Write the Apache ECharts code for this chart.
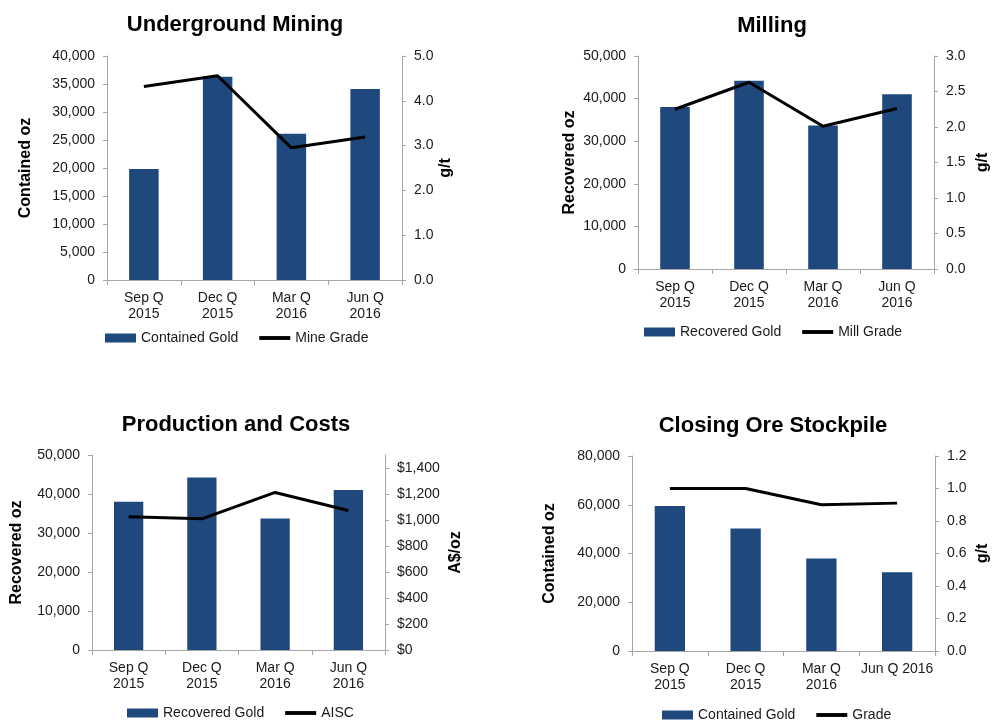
<!DOCTYPE html>
<html>
<head>
<meta charset="utf-8">
<script src="https://cdn.jsdelivr.net/npm/echarts/dist/echarts.min.js"></script>
<style>
  html, body { margin: 0; padding: 0; background: #fff; }
  #chart { width: 992px; height: 722px; }
</style>
</head>
<body>
<div id="chart"></div>
<script>
// ---- Data ----
const categories = ['Sep Q\n2015', 'Dec Q\n2015', 'Mar Q\n2016', 'Jun Q\n2016'];
const categoriesStockpile = ['Sep Q\n2015', 'Dec Q\n2015', 'Mar Q\n2016', 'Jun Q 2016'];

const titles = ['Underground Mining', 'Milling', 'Production and Costs', 'Closing Ore Stockpile'];

const ugContainedGold = [19800, 36300, 26100, 34100];
const ugMineGrade = [4.32, 4.56, 2.95, 3.19];

const millRecoveredGold = [38000, 44200, 33700, 41000];
const millGrade = [2.25, 2.63, 2.01, 2.26];

const prodRecoveredGold = [38000, 44200, 33700, 41000];
const prodAISC = [1025, 1009, 1212, 1073];

const stockContainedGold = [59500, 50300, 38000, 32300];
const stockGrade = [1.00, 1.00, 0.90, 0.91];

// ---- Styling ----
const FONT = 'Liberation Sans, Arial, sans-serif';
const BAR_COLOR = '#1F497D';
const AXIS_COLOR = '#A6A6A6';
const TEXT_COLOR = '#1a1a1a';
const LINE_ICON = 'path://M0,0H32V4H0Z';

const fmtThousands = v => Math.round(v).toLocaleString('en-US');
const fmt1 = v => Number(v).toFixed(1);
const fmtDollar = v => '$' + Math.round(v).toLocaleString('en-US');

const panels = [
  { title: titles[0], titleX: 230, titleY: 9,
    grid: { left: 107, top: 56, width: 295, height: 224 },
    cats: categories, barName: 'Contained Gold', barData: ugContainedGold,
    lineName: 'Mine Grade', lineData: ugMineGrade,
    left: { name: 'Contained oz', min: 0, max: 40000, interval: 5000, fmt: fmtThousands, gap: 73 },
    right: { name: 'g/t', min: 0, max: 5, interval: 1, fmt: fmt1, gap: 35 },
    legend: { left: 105, top: 331, gap: 21 } },
  { title: titles[1], titleX: 767, titleY: 10,
    grid: { left: 638, top: 56, width: 298, height: 213 },
    cats: categories, barName: 'Recovered Gold', barData: millRecoveredGold,
    lineName: 'Mill Grade', lineData: millGrade,
    left: { name: 'Recovered oz', min: 0, max: 50000, interval: 10000, fmt: fmtThousands, gap: 60 },
    right: { name: 'g/t', min: 0, max: 3, interval: 0.5, fmt: fmt1, gap: 41 },
    legend: { left: 644, top: 325, gap: 21 } },
  { title: titles[2], titleX: 231, titleY: 409,
    grid: { left: 92, top: 455, width: 293, height: 195 },
    cats: categories, barName: 'Recovered Gold', barData: prodRecoveredGold,
    lineName: 'AISC', lineData: prodAISC,
    left: { name: 'Recovered oz', min: 0, max: 50000, interval: 10000, fmt: fmtThousands, gap: 67 },
    right: { name: 'A$/oz', min: 0, max: 1500, interval: 200, fmt: fmtDollar, gap: 63, hideMax: true },
    legend: { left: 127, top: 706, gap: 21 } },
  { title: titles[3], titleX: 768, titleY: 410,
    grid: { left: 632, top: 456, width: 303, height: 195 },
    cats: categoriesStockpile, barName: 'Contained Gold', barData: stockContainedGold,
    lineName: 'Grade', lineData: stockGrade,
    left: { name: 'Contained oz', min: 0, max: 80000, interval: 20000, fmt: fmtThousands, gap: 74 },
    right: { name: 'g/t', min: 0, max: 1.2, interval: 0.2, fmt: fmt1, gap: 40 },
    legend: { left: 662, top: 708, gap: 21 } }
];

const option = {
  backgroundColor: '#fff',
  animation: false,
  textStyle: { fontFamily: FONT },
  title: [], grid: [], xAxis: [], yAxis: [], legend: [], series: []
};

function yAxisDef(gi, cfg, position) {
  return {
    type: 'value', gridIndex: gi, position: position,
    min: cfg.min, max: cfg.max, interval: cfg.interval,
    name: cfg.name, nameLocation: 'middle', nameRotate: 90, nameGap: cfg.gap,
    nameTextStyle: { fontFamily: FONT, fontWeight: 'bold', fontSize: 16, color: '#000' },
    axisLine: { show: true, lineStyle: { color: AXIS_COLOR, width: 1 } },
    axisTick: { show: true, inside: false, length: 4, lineStyle: { color: AXIS_COLOR } },
    axisLabel: { fontFamily: FONT, fontSize: 14, color: TEXT_COLOR, margin: 12,
                 formatter: cfg.fmt, showMaxLabel: cfg.hideMax ? false : true },
    splitLine: { show: false }
  };
}

panels.forEach((p, i) => {
  option.title.push({
    text: p.title, left: p.titleX, top: p.titleY, textAlign: 'center',
    textStyle: { fontFamily: FONT, fontWeight: 'bold', fontSize: 22, color: '#000' }
  });
  option.grid.push(Object.assign({ containLabel: false }, p.grid));
  option.xAxis.push({
    type: 'category', gridIndex: i, data: p.cats, boundaryGap: true,
    axisLine: { show: true, lineStyle: { color: AXIS_COLOR, width: 1 } },
    axisTick: { show: true, length: 5, alignWithLabel: false, lineStyle: { color: AXIS_COLOR } },
    axisLabel: { fontFamily: FONT, fontSize: 14, color: TEXT_COLOR, margin: 10, lineHeight: 16, interval: 0 },
    splitLine: { show: false }
  });
  option.yAxis.push(yAxisDef(i, p.left, 'left'));
  option.yAxis.push(yAxisDef(i, p.right, 'right'));
  option.legend.push({
    left: p.legend.left, top: p.legend.top, orient: 'horizontal', padding: 0,
    itemWidth: 31, itemHeight: 9, itemGap: p.legend.gap,
    textStyle: { fontFamily: FONT, fontSize: 14, color: TEXT_COLOR },
    data: [{ name: p.barName, icon: 'rect' },
           { name: p.lineName, icon: LINE_ICON, itemStyle: { color: '#000' } }],
    selectedMode: false
  });
  option.series.push({
    name: p.barName, type: 'bar', xAxisIndex: i, yAxisIndex: i * 2,
    data: p.barData, barWidth: '40%',
    itemStyle: { color: BAR_COLOR }
  });
  option.series.push({
    name: p.lineName, type: 'line', xAxisIndex: i, yAxisIndex: i * 2 + 1,
    data: p.lineData, symbol: 'none', smooth: false,
    lineStyle: { color: '#000', width: 3 }, itemStyle: { color: '#000' }
  });
});

const chart = echarts.init(document.getElementById('chart'), null, { renderer: 'canvas' });
chart.setOption(option);
</script>
</body>
</html>
